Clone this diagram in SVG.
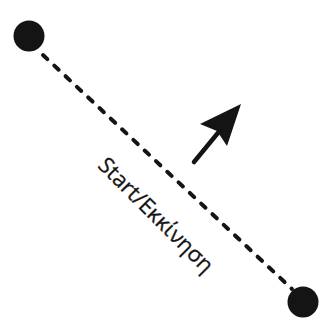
<svg xmlns="http://www.w3.org/2000/svg" width="327" height="328" viewBox="0 0 327 328">
<style>
.dot{fill:#141414}
.path{stroke:#141414;stroke-width:4;stroke-dasharray:6 9.5;stroke-linecap:round;fill:none}
.lbl{font-family:"Open Sans","Noto Sans",sans-serif;font-size:22px;fill:#141414;stroke:#141414;stroke-width:0.3}
</style>
<rect width="327" height="328" fill="#fff"/>
<g id="connectors">
<line class="path" x1="43" y1="55" x2="292" y2="289"/>
</g>
<g id="start"><circle class="dot" cx="29" cy="36" r="15.5"/></g>
<g id="end"><circle class="dot" cx="303" cy="302" r="15.5"/></g>
<g id="arrow">
<line x1="194" y1="162" x2="222" y2="128" stroke="#141414" stroke-width="4.5" stroke-linecap="round"/>
<polygon points="241,104 200,124 217,131 227,146" fill="#141414"/>
</g>
<g id="label"><text class="lbl" x="157" y="214" text-anchor="middle" dominant-baseline="central" transform="rotate(45 157 214)">Start/Εκκίνηση</text></g>
</svg>
